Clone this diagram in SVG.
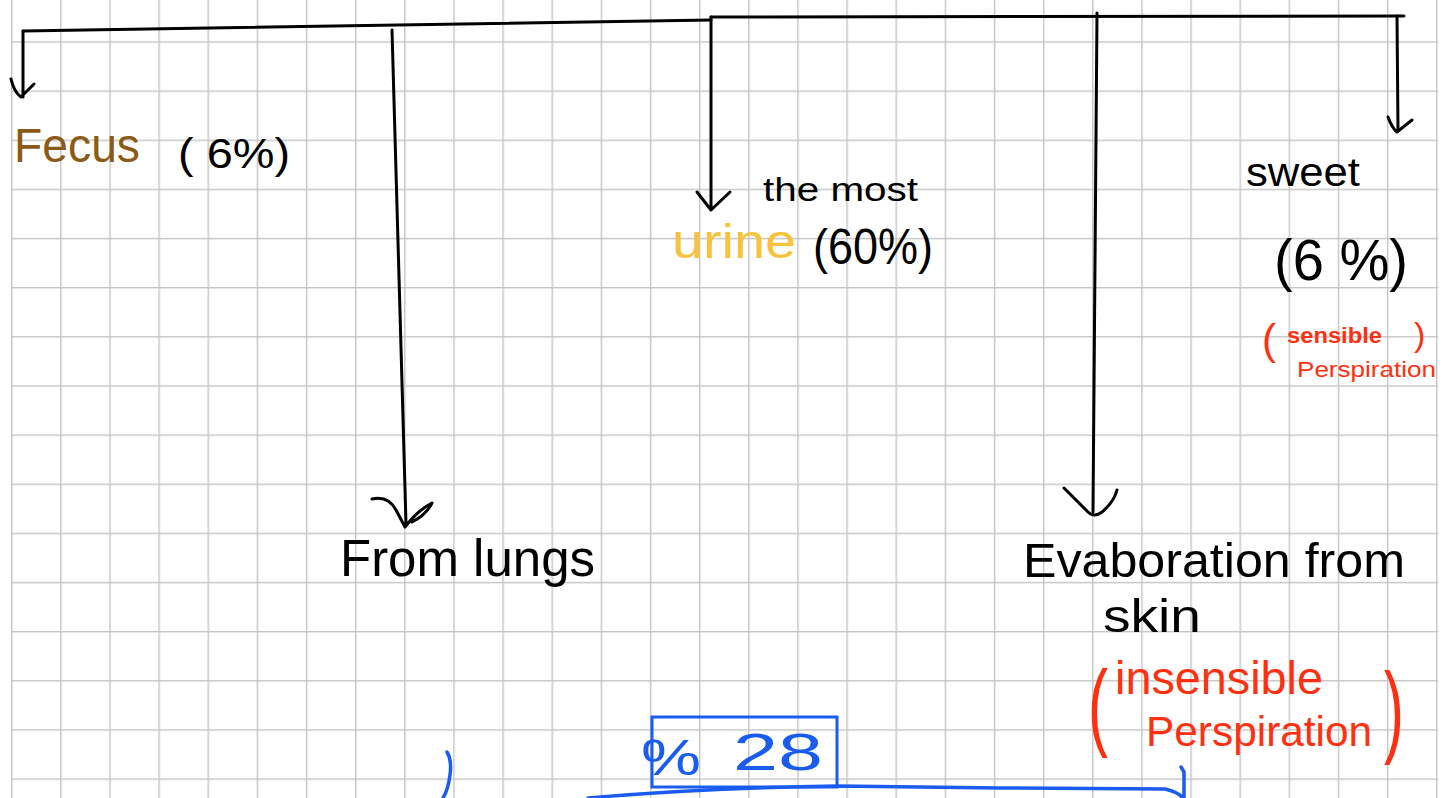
<svg xmlns="http://www.w3.org/2000/svg" width="1450" height="798" viewBox="0 0 1450 798">
<style>
.ink{fill:none;stroke:#000;stroke-width:3;stroke-linecap:round;stroke-linejoin:round}
.blue{fill:none;stroke:#1a5cf0;stroke-width:3.5;stroke-linecap:round;stroke-linejoin:round}
.t{font-family:"Liberation Sans","DejaVu Sans",sans-serif}
.k{fill:#000}
.r{fill:#ff3010}
.b{fill:#1a5cf0}
</style>
<defs>
<pattern id="grid" patternUnits="userSpaceOnUse" x="11" y="41.3" width="49.14" height="49.14">
<rect x="0" y="0" width="1.4" height="49.14" fill="#c4c4c4"/>
<rect x="0" y="0" width="49.14" height="1.4" fill="#c4c4c4"/>
</pattern>
</defs>
<rect width="1450" height="798" fill="#fff"/>
<rect x="11" y="0" width="1427.2" height="798" fill="url(#grid)"/>

<g id="connectors">
<path class="ink" d="M23,31 L711,20"/>
<path class="ink" d="M711,17 L1404,16"/>
<path class="ink" d="M23,31 L23,97 M11,79 Q14,92 21,97 L34,84"/>
<path class="ink" d="M392,30 L406,524 M372,499 Q388,495 396,510 L405,527 Q418,510 432,503 Q426,515 412,522"/>
<path class="ink" d="M711,17 L711,210 M697,192 L711,210 L730,192"/>
<path class="ink" d="M1097,13 L1093,512 M1064,488 L1088,512 Q1094,518 1102,512 Q1114,502 1117,490"/>
<path class="ink" d="M1397,16 L1398,131 M1388,117 Q1392,128 1397,132 L1412,120"/>
</g>

<g id="n-fecus">
<text class="t" x="14" y="162" font-size="48" fill="#8b5a16" textLength="126" lengthAdjust="spacingAndGlyphs">Fecus</text>
<text class="t k" x="178" y="168" font-size="42" textLength="112" lengthAdjust="spacingAndGlyphs">( 6%)</text>
</g>

<g id="n-urine">
<text class="t k" x="763" y="201" font-size="34" textLength="155" lengthAdjust="spacingAndGlyphs">the most</text>
<text class="t" x="672" y="258" font-size="48" fill="#f8c23c" textLength="124" lengthAdjust="spacingAndGlyphs">urine</text>
<text class="t k" x="813" y="264" font-size="50" textLength="120" lengthAdjust="spacingAndGlyphs">(60%)</text>
</g>

<g id="n-sweat">
<text class="t k" x="1246" y="186" font-size="40" textLength="114" lengthAdjust="spacingAndGlyphs">sweet</text>
<text class="t k" x="1274" y="280" font-size="58" textLength="134" lengthAdjust="spacingAndGlyphs">(6 %)</text>
<text class="t r" x="1262" y="354" font-size="42">(</text>
<text class="t r" x="1287" y="343" font-size="22" font-weight="bold" textLength="95" lengthAdjust="spacingAndGlyphs">sensible</text>
<text class="t r" x="1297" y="377" font-size="22" textLength="139" lengthAdjust="spacingAndGlyphs">Perspiration</text>
<text class="t r" x="1414" y="346" font-size="34">)</text>
</g>

<g id="n-lungs">
<text class="t k" x="340" y="576" font-size="52" textLength="255" lengthAdjust="spacingAndGlyphs">From lungs</text>
</g>

<g id="n-skin">
<text class="t k" x="1023" y="577" font-size="48" textLength="382" lengthAdjust="spacingAndGlyphs">Evaboration from</text>
<text class="t k" x="1103" y="632" font-size="46" textLength="98" lengthAdjust="spacingAndGlyphs">skin</text>
<text class="t r" transform="translate(1088,738) scale(1.3,2.1)" font-size="46">(</text>
<text class="t r" x="1115" y="694" font-size="47" textLength="208" lengthAdjust="spacingAndGlyphs">insensible</text>
<text class="t r" x="1146" y="746" font-size="42.4">Perspiration</text>
<text class="t r" transform="translate(1384,744) scale(1.3,2.2)" font-size="46">)</text>
</g>

<g id="n-total">
<rect x="652" y="717" width="185" height="70" fill="none" stroke="#1a5cf0" stroke-width="3"/>
<text class="t b" x="641" y="775" font-size="50" textLength="60" lengthAdjust="spacingAndGlyphs">%</text>
<text class="t b" x="733" y="770" font-size="52" textLength="90" lengthAdjust="spacingAndGlyphs">28</text>
<path class="blue" d="M447,752 Q452,760 450,775 Q448,790 443,798"/>
<path class="blue" d="M588,798 Q700,788 837,786 L1000,788 L1165,789 Q1178,792 1183,798 M1181,767 L1184,772 L1184,798"/>
</g>
</svg>
